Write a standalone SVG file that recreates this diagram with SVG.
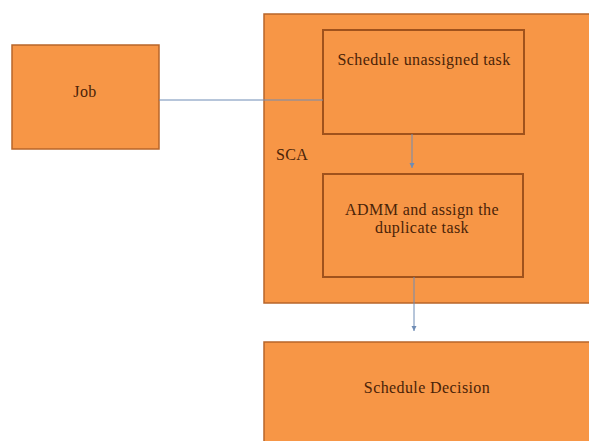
<svg xmlns="http://www.w3.org/2000/svg" width="589" height="441" viewBox="0 0 589 441">
<style>
.box{fill:#F79646;stroke:#B8652A;stroke-width:1.5}
.inner{fill:#F79646;stroke:#A0521C;stroke-width:2}
.t{font-family:"Liberation Serif","DejaVu Serif",serif;font-size:16px;letter-spacing:0.4px;fill:#4A2308;text-anchor:middle}
.c{stroke:#6F8CB5;stroke-width:1;fill:none}
</style>
<defs>
<marker id="ah" markerWidth="6" markerHeight="6" refX="5" refY="3" orient="auto" markerUnits="userSpaceOnUse">
<path d="M0,0.5 L5,3 L0,5.5 z" fill="#6F8CB5"/>
</marker>
</defs>
<rect width="589" height="441" fill="#ffffff"/>
<g id="job">
<rect class="box" x="12" y="45" width="147" height="104"/>
<text class="t" x="85" y="97">Job</text>
</g>
<g id="sca">
<rect class="box" x="264" y="14" width="330" height="289"/>
<text class="t" x="276" y="160" style="text-anchor:start">SCA</text>
</g>
<g id="schedule-unassigned">
<rect class="inner" x="323" y="30" width="201" height="104"/>
<text class="t" x="424" y="65">Schedule unassigned task</text>
</g>
<g id="admm">
<rect class="inner" x="323" y="174" width="200" height="103"/>
<text class="t" x="422" y="215">ADMM and assign the</text>
<text class="t" x="422" y="233">duplicate task</text>
</g>
<g id="decision">
<rect class="box" x="264" y="342" width="330" height="110"/>
<text class="t" x="427" y="393">Schedule Decision</text>
</g>
<g id="connectors">
<line class="c" x1="159" y1="100" x2="323" y2="100"/>
<line class="c" x1="412" y1="134" x2="412" y2="168" marker-end="url(#ah)"/>
<line class="c" x1="414" y1="277" x2="414" y2="331" marker-end="url(#ah)"/>
</g>
</svg>
